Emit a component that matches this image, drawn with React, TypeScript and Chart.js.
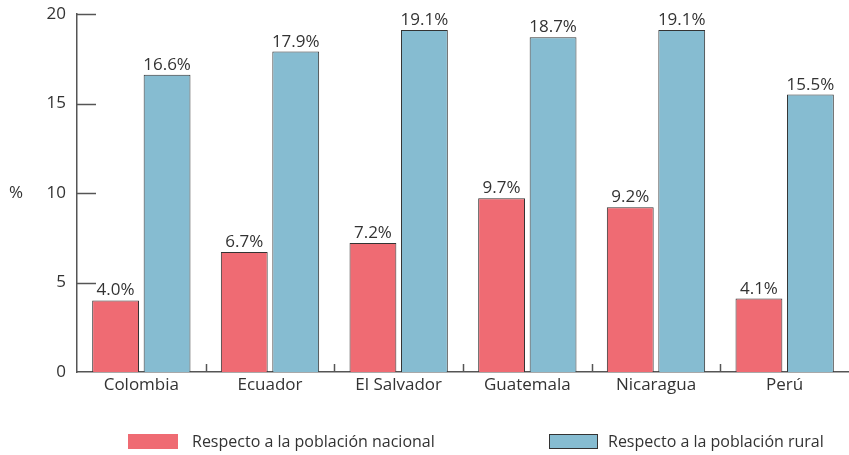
import React, { useEffect, useRef } from "react";
import { Chart, registerables } from "chart.js";

Chart.register(...registerables);

const categories = ["Colombia", "Ecuador", "El Salvador", "Guatemala", "Nicaragua", "Perú"];
const nacional = [4.0, 6.7, 7.2, 9.7, 9.2, 4.1];
const rural = [16.6, 17.9, 19.1, 18.7, 19.1, 15.5];
const seriesLabels = ["Respecto a la población nacional", "Respecto a la población rural"];
const yTicks = [0, 5, 10, 15, 20];

const RED = "#EF6B73";
const BLUE = "#86BCD1";
const AXIS = "#555555";
const TEXT = "#333333";
const FONT = "'Open Sans', 'DejaVu Sans', sans-serif";

const decorPlugin = {
  id: "decor",
  afterDatasetsDraw(chart: any) {
    const ctx = chart.ctx;
    ctx.save();
    ctx.font = `17px ${FONT}`;
    ctx.fillStyle = TEXT;
    ctx.textAlign = "center";
    ctx.textBaseline = "alphabetic";
    chart.data.datasets.forEach((ds: any, di: number) => {
      const meta = chart.getDatasetMeta(di);
      meta.data.forEach((el: any, i: number) => {
        ctx.fillText(ds.data[i].toFixed(1) + "%", el.x, el.y - 5);
      });
    });
    ctx.restore();
  },
  afterDraw(chart: any) {
    const ctx = chart.ctx;
    const area = chart.chartArea;
    const y = chart.scales.y;
    const x = chart.scales.x;
    ctx.save();
    ctx.strokeStyle = AXIS;
    ctx.lineWidth = 1.5;
    yTicks.forEach((v) => {
      const py = Math.round(y.getPixelForValue(v)) + 0.5;
      if (v === 0) return;
      ctx.beginPath();
      ctx.moveTo(area.left, py);
      ctx.lineTo(area.left + 19, py);
      ctx.stroke();
    });
    for (let i = 1; i < categories.length; i++) {
      const px = Math.round((x.getPixelForTick(i - 1) + x.getPixelForTick(i)) / 2) + 0.5;
      ctx.beginPath();
      ctx.moveTo(px, area.bottom);
      ctx.lineTo(px, area.bottom - 8);
      ctx.stroke();
    }
    ctx.fillStyle = TEXT;
    ctx.font = `17px ${FONT}`;
    ctx.textAlign = "center";
    ctx.textBaseline = "middle";
    ctx.fillText("%", 16, y.getPixelForValue(10));
    const legendY = 434;
    const items = [
      { x: 128, w: 50, color: RED, border: false, label: seriesLabels[0], gap: 14 },
      { x: 549, w: 49, color: BLUE, border: true, label: seriesLabels[1], gap: 10 },
    ];
    ctx.font = `16px ${FONT}`;
    ctx.textAlign = "left";
    items.forEach((it) => {
      ctx.fillStyle = it.color;
      ctx.fillRect(it.x, legendY, it.w, 15);
      if (it.border) {
        ctx.strokeStyle = "#333333";
        ctx.lineWidth = 1;
        ctx.strokeRect(it.x + 0.5, legendY + 0.5, it.w - 1, 14);
      }
      ctx.fillStyle = TEXT;
      ctx.fillText(it.label, it.x + it.w + it.gap, legendY + 8);
    });
    ctx.restore();
  },
};

export default function App() {
  const ref = useRef<HTMLCanvasElement>(null);
  useEffect(() => {
    document.body.style.margin = "0";
    const chart = new Chart(ref.current!, {
      type: "bar",
      data: {
        labels: categories,
        datasets: [
          {
            label: seriesLabels[0],
            data: nacional,
            backgroundColor: RED,
            borderColor: "#333333",
            borderWidth: 1,
            categoryPercentage: 0.8,
            barPercentage: 0.91,
          },
          {
            label: seriesLabels[1],
            data: rural,
            backgroundColor: BLUE,
            borderColor: "#333333",
            borderWidth: 1,
            categoryPercentage: 0.8,
            barPercentage: 0.91,
          },
        ],
      },
      options: {
        animation: false,
        responsive: true,
        maintainAspectRatio: false,
        layout: { padding: { top: 14, right: 0, bottom: 59, left: 0 } },
        plugins: { legend: { display: false }, tooltip: { enabled: false } },
        scales: {
          x: {
            grid: { display: false, drawTicks: false },
            border: { display: true, color: AXIS, width: 1.5 },
            ticks: { font: { family: FONT, size: 17 }, color: TEXT, padding: 3 },
            afterFit: (s: any) => {
              s.height = 24;
            },
          },
          y: {
            min: 0,
            max: 20,
            afterBuildTicks: (s: any) => {
              s.ticks = yTicks.map((v) => ({ value: v }));
            },
            grid: { display: false, drawTicks: false },
            border: { display: true, color: AXIS, width: 1.5 },
            ticks: { font: { family: FONT, size: 17 }, color: TEXT, padding: 11 },
            afterFit: (s: any) => {
              s.width = 77;
              s.paddingTop = 0;
              s.paddingBottom = 0;
            },
          },
        },
      },
      plugins: [decorPlugin],
    });
    return () => chart.destroy();
  }, []);
  return (
    <div style={{ width: 849, height: 455, position: "relative" }}>
      <canvas ref={ref} />
    </div>
  );
}
